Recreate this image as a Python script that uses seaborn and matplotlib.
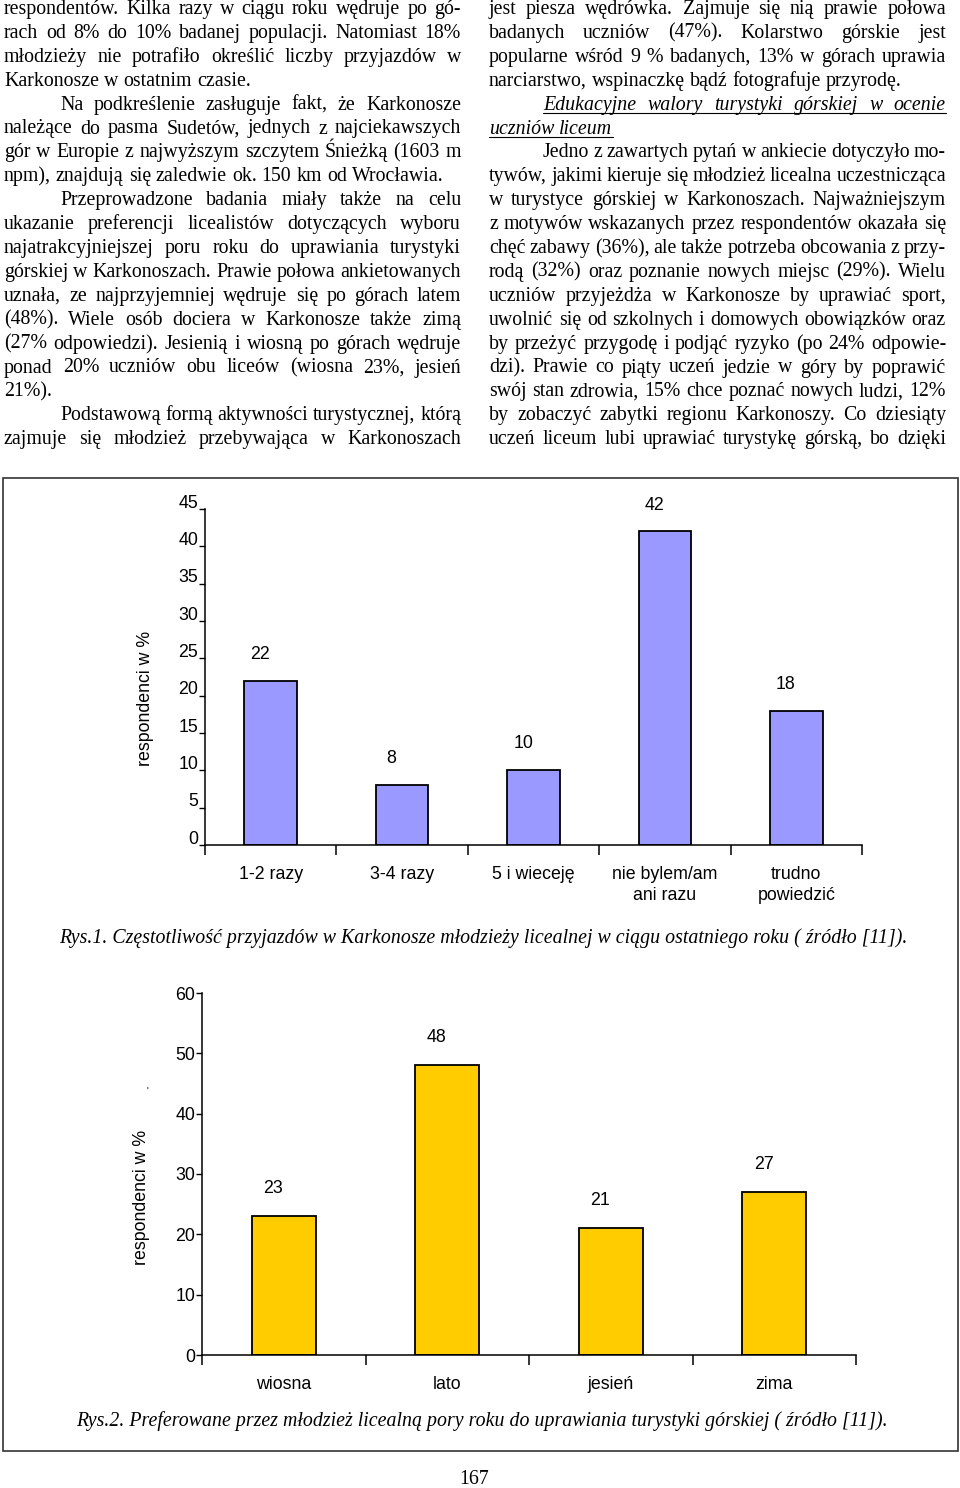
import numpy as np
import matplotlib
matplotlib.use("Agg")
import matplotlib.pyplot as plt
from matplotlib.lines import Line2D
from matplotlib.patches import Rectangle
from matplotlib.transforms import ScaledTranslation
import seaborn as sns

# --- DATA ---
trips_labels = ['1-2 razy', '3-4 razy', '5 i wieceję', 'nie bylem/am\nani razu', 'trudno\npowiedzić']
trips_values = [22, 8, 10, 42, 18]
trips_yticks = list(range(0, 46, 5))

season_labels = ['wiosna', 'lato', 'jesień', 'zima']
season_values = [23, 48, 21, 27]
season_yticks = list(range(0, 61, 10))

ylabel = 'respondenci w %'
caption1 = ('Rys.1. Częstotliwość przyjazdów w Karkonosze młodzieży licealnej '
            'w ciągu ostatniego roku ( źródło [11]).')
caption2 = ('Rys.2. Preferowane przez młodzież licealną pory roku do uprawiania '
            'turystyki górskiej ( źródło [11]).')

# (text, justified, indented)
left_col = [
    ('respondentów. Kilka razy w ciągu roku wędruje po gó-', True, False),
    ('rach od 8% do 10% badanej populacji. Natomiast 18%', True, False),
    ('młodzieży nie potrafiło określić liczby przyjazdów w', True, False),
    ('Karkonosze w ostatnim czasie.', False, False),
    ('Na podkreślenie zasługuje fakt, że Karkonosze', True, True),
    ('należące do pasma Sudetów, jednych z najciekawszych', True, False),
    ('gór w Europie z najwyższym szczytem Śnieżką (1603 m', True, False),
    ('npm), znajdują się zaledwie ok. 150 km od Wrocławia.', False, False),
    ('Przeprowadzone badania miały także na celu', True, True),
    ('ukazanie preferencji licealistów dotyczących wyboru', True, False),
    ('najatrakcyjniejszej poru roku do uprawiania turystyki', True, False),
    ('górskiej w Karkonoszach. Prawie połowa ankietowanych', True, False),
    ('uznała, ze najprzyjemniej wędruje się po górach latem', True, False),
    ('(48%). Wiele osób dociera w Karkonosze także zimą', True, False),
    ('(27% odpowiedzi). Jesienią i wiosną po górach wędruje', True, False),
    ('ponad 20% uczniów  obu liceów (wiosna 23%, jesień', True, False),
    ('21%).', False, False),
    ('Podstawową formą aktywności turystycznej, którą', True, True),
    ('zajmuje się młodzież przebywająca w Karkonoszach', True, False),
]
right_col = [
    ('jest piesza wędrówka. Zajmuje się nią prawie połowa', True, False),
    ('badanych uczniów (47%). Kolarstwo górskie jest', True, False),
    ('popularne wśród  9 % badanych, 13% w górach uprawia', True, False),
    ('narciarstwo, wspinaczkę bądź fotografuje przyrodę.', False, False),
    ('Edukacyjne walory turystyki górskiej w ocenie', True, True),
    ('uczniów liceum', False, False),
    ('Jedno z zawartych pytań w ankiecie dotyczyło mo-', True, True),
    ('tywów, jakimi kieruje się młodzież licealna uczestnicząca', True, False),
    ('w turystyce górskiej w Karkonoszach. Najważniejszym', True, False),
    ('z motywów wskazanych przez respondentów okazała się', True, False),
    ('chęć zabawy (36%), ale także potrzeba obcowania z przy-', True, False),
    ('rodą (32%) oraz poznanie nowych miejsc (29%). Wielu', True, False),
    ('uczniów przyjeżdża w Karkonosze by uprawiać sport,', True, False),
    ('uwolnić się od szkolnych i domowych obowiązków oraz', True, False),
    ('by przeżyć przygodę i podjąć ryzyko (po 24% odpowie-', True, False),
    ('dzi). Prawie co piąty uczeń jedzie w góry by poprawić', True, False),
    ('swój stan zdrowia, 15% chce poznać nowych ludzi, 12%', True, False),
    ('by zobaczyć zabytki regionu Karkonoszy. Co dziesiąty', True, False),
    ('uczeń liceum lubi uprawiać turystykę górską, bo dzięki', True, False),
]
heading_rows = [4, 5]  # italic, underlined lines in right column

# --- STYLE ---
sns.set_style('ticks')
plt.rcParams['font.family'] = ['Liberation Sans', 'DejaVu Sans']
for key in ['text.color', 'axes.labelcolor', 'xtick.color', 'ytick.color']:
    plt.rcParams[key] = 'black'
SERIF = ['Liberation Serif', 'DejaVu Serif']
BODY = 14.3
CHART_FS = 12.8

W, H = 960, 1488
fig = plt.figure(figsize=(W / 100, H / 100), dpi=100)
renderer = fig.canvas.get_renderer()


def fx(px):
    return px / W


def fy(py):
    return 1 - py / H


def text_width(s, **kw):
    t = fig.text(0, 0, s, **kw)
    w = t.get_window_extent(renderer).width
    t.remove()
    return w


def put_line(text, x0, x1, base, justify, style='normal', underline=False):
    words = text.split()
    size = BODY
    while True:
        kw = dict(family=SERIF, size=size, style=style)
        widths = [text_width(w, **kw) for w in words]
        space = text_width('a a', **kw) - text_width('aa', **kw)
        if not justify or sum(widths) + 0.5 * space * (len(words) - 1) <= x1 - x0:
            break
        size -= 0.2
    if justify and len(words) > 1:
        gap = (x1 - x0 - sum(widths)) / (len(words) - 1)
    else:
        gap = space
    x = x0
    for w, wd in zip(words, widths):
        fig.text(fx(x), fy(base), w, ha='left', va='baseline', **kw)
        x += wd + gap
    if underline:
        fig.add_artist(Line2D([fx(x0), fx(x - gap)], [fy(base + 3), fy(base + 3)],
                              transform=fig.transFigure, color='black', lw=0.8))


for i, (txt, just, ind) in enumerate(left_col):
    put_line(txt, 4 + (56 if ind else 0), 461, 14 + 23.9 * i, just)
for i, (txt, just, ind) in enumerate(right_col):
    head = i in heading_rows
    put_line(txt, 489 + (54 if ind else 0), 946, 14 + 23.9 * i, just,
             style='italic' if head else 'normal', underline=head)

# frame around both figures
fig.add_artist(Rectangle((fx(3), fy(1451)), fx(955), (1451 - 478) / H,
                         transform=fig.transFigure, fill=False,
                         edgecolor='#333333', lw=1.2))


def draw_chart(rect, labels, values, yticks, color, width, raise_px, val_dy):
    ax = fig.add_axes(rect)
    sns.barplot(x=labels, y=values, color=color, saturation=1, width=width,
                edgecolor='black', linewidth=1.3, ax=ax)
    n = len(labels)
    ax.set_xlim(-0.5, n - 0.5)
    ax.set_ylim(yticks[0], yticks[-1])
    ax.set_yticks(yticks)
    ax.set_xticks(range(n))
    ax.set_xticklabels(labels, fontsize=CHART_FS, linespacing=1.35)
    ax.set_xticks(np.arange(-0.5, n), minor=True)
    ax.tick_params(axis='x', which='major', length=0, pad=15)
    ax.tick_params(axis='x', which='minor', length=7, width=1.1, direction='out')
    ax.tick_params(axis='y', length=4, width=1.0, pad=1, labelsize=CHART_FS)
    for lab in ax.get_yticklabels():
        lab.set_transform(lab.get_transform() +
                          ScaledTranslation(0, raise_px / 100, fig.dpi_scale_trans))
    for s in ['left', 'bottom']:
        ax.spines[s].set_linewidth(1.1)
        ax.spines[s].set_color('black')
    sns.despine(ax=ax)
    ax.set_xlabel('')
    ax.set_ylabel(ylabel, fontsize=CHART_FS, va='center')
    for i, v in enumerate(values):
        ax.annotate(str(v), xy=(i, v), xytext=(-7.5, val_dy), textcoords='offset points',
                    ha='center', va='center', fontsize=CHART_FS)
    return ax


ax1 = draw_chart([fx(205), fy(845), 657 / W, 336 / H], trips_labels, trips_values,
                 trips_yticks, '#9999FF', 0.4, 8, 19)
ax1.yaxis.set_label_coords((145 - 205) / 657, (845 - 698) / 336)

ax2 = draw_chart([fx(202), fy(1355), 654 / W, 362 / H], season_labels, season_values,
                 season_yticks, '#FFCC00', 0.39, 0, 20)
ax2.yaxis.set_label_coords((141 - 202) / 654, (1355 - 1197) / 362)
fig.text(fx(147), fy(1092), "'", fontsize=7, ha='center', va='center')


def caption(s, x0, x1, yc):
    w = text_width(s, family=SERIF, size=14, style='italic')
    size = 14 * (x1 - x0) / w
    fig.text(fx((x0 + x1) / 2), fy(yc), s, family=SERIF, size=size, style='italic',
             ha='center', va='center')


caption(caption1, 60, 906, 938)
caption(caption2, 77, 886, 1421)
fig.text(fx(474), fy(1479), '167', family=SERIF, size=BODY, ha='center', va='center')

fig.savefig('out.png', dpi=100)
